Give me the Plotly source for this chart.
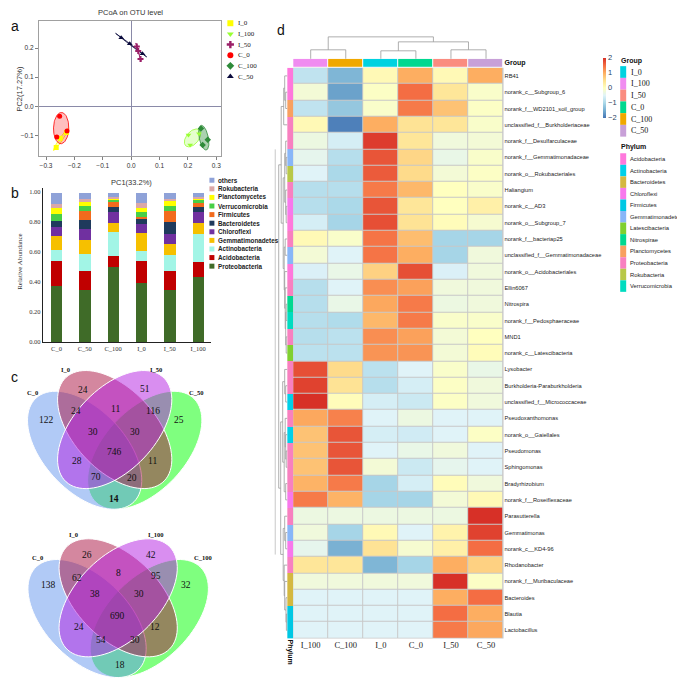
import numpy as np
import plotly.graph_objects as go

W, H = 685, 679
SERIF = "Liberation Serif, Times New Roman, serif"
SANS = "Liberation Sans, Arial, sans-serif"

#-------------------------------------------------------------------------------
# a : PCoA
#-------------------------------------------------------------------------------
pcoa_groups = ["I_0", "I_100", "I_50", "C_0", "C_100", "C_50"]
pc1_I_0   = [-0.264, -0.250, -0.228]
pc2_I_0   = [-0.142, -0.110, -0.090]
pc1_I_100 = [0.202, 0.208, 0.239]
pc2_I_100 = [-0.099, -0.133, -0.094]
pc1_I_50  = [0.020, 0.025, 0.033]
pc2_I_50  = [0.205, 0.190, 0.162]
pc1_C_0   = [-0.252, -0.262, -0.226]
pc2_C_0   = [-0.034, -0.106, -0.085]
pc1_C_100 = [0.246, 0.252, 0.270]
pc2_C_100 = [-0.076, -0.133, -0.115]
pc1_C_50  = [-0.035, -0.005, 0.040]
pc2_C_50  = [0.235, 0.215, 0.180]

#-------------------------------------------------------------------------------
# b : relative abundance
#-------------------------------------------------------------------------------
bar_samples = ["C_0", "C_50", "C_100", "I_0", "I_50", "I_100"]
Proteobacteria   = [0.374, 0.347, 0.501, 0.396, 0.347, 0.440]
Acidobacteria    = [0.171, 0.130, 0.079, 0.149, 0.130, 0.098]
Actinobacteria   = [0.070, 0.112, 0.156, 0.066, 0.105, 0.187]
Gemmatimonadetes = [0.095, 0.097, 0.062, 0.121, 0.077, 0.071]
Chloroflexi      = [0.060, 0.072, 0.070, 0.059, 0.066, 0.074]
Bacteroidetes    = [0.040, 0.060, 0.033, 0.038, 0.077, 0.035]
Firmicutes       = [0.003, 0.061, 0.039, 0.006, 0.073, 0.025]
Verrucomicrobia  = [0.044, 0.033, 0.014, 0.033, 0.033, 0.022]
Planctomycetes   = [0.040, 0.022, 0.009, 0.027, 0.037, 0.011]
Rokubacteria     = [0.026, 0.022, 0.004, 0.035, 0.011, 0.004]
others           = [0.077, 0.044, 0.033, 0.070, 0.044, 0.033]

#-------------------------------------------------------------------------------
# c : Venn counts (C_0 only, I_0 only, I_x only, C_x only, C0&I0, I0&Ix,
#     Ix&Cx, C0&I0&Ix, I0&Ix&Cx, all, C0&Ix, I0&Cx, C0&Ix&Cx, C0&I0&Cx, C0&Cx)
#-------------------------------------------------------------------------------
venn1_sets   = ["C_0", "I_0", "I_50", "C_50"]
venn1_counts = [122, 24, 51, 25, 24, 11, 116, 30, 30, 746, 28, 11, 70, 20, 14]
venn2_sets   = ["C_0", "I_0", "I_100", "C_100"]
venn2_counts = [138, 26, 42, 32, 62, 8, 95, 38, 30, 690, 24, 12, 54, 30, 18]

#-------------------------------------------------------------------------------
# d : heatmap
#-------------------------------------------------------------------------------
hm_cols = ["I_100", "C_100", "I_0", "C_0", "I_50", "C_50"]
hm_rows = ["RB41", "norank_c__Subgroup_6", "norank_f__WD2101_soil_group",
           "unclassified_f__Burkholderiaceae", "norank_f__Desulfarculaceae",
           "norank_f__Gemmatimonadaceae", "norank_o__Rokubacteriales", "Haliangium",
           "norank_c__AD3", "norank_o__Subgroup_7", "norank_f__bacteriap25",
           "unclassified_f__Gemmatimonadaceae", "norank_o__Acidobacteriales",
           "Ellin6067", "Nitrospira", "norank_f__Pedosphaeraceae", "MND1",
           "norank_c__Latescibacteria", "Lysobacter", "Burkholderia-Paraburkholderia",
           "unclassified_f__Micrococcaceae", "Pseudoxanthomonas", "norank_o__Gaiellales",
           "Pseudomonas", "Sphingomonas", "Bradyrhizobium", "norank_f__Roseiflexaceae",
           "Parasutterella", "Gemmatimonas", "norank_c__KD4-96", "Rhodanobacter",
           "norank_f__Muribaculaceae", "Bacteroides", "Blautia", "Lactobacillus"]
zscores = [
    [-0.80, -1.40, 0.10, 1.00, 0.10, 1.00],
    [-0.20, -1.60, -0.05, 1.50, 0.40, -0.10],
    [-0.80, -1.20, -0.10, 1.40, 0.80, -0.05],
    [0.10, -1.90, 1.00, 0.45, 0.40, -0.10],
    [-0.30, -0.60, 1.90, 0.40, -0.25, -0.20],
    [-0.40, -0.90, 1.70, 0.60, -0.35, -0.10],
    [-0.50, -1.00, 1.65, 0.55, -0.20, -0.05],
    [-0.90, -0.90, 1.40, 0.90, 0.00, -0.10],
    [-0.90, -1.00, 1.70, 0.40, 0.00, 0.25],
    [-0.60, -1.05, 1.75, 0.45, 0.05, -0.15],
    [0.10, -0.10, 1.45, 0.85, -1.05, -1.05],
    [-0.20, -0.50, 1.45, 1.00, -1.05, -0.25],
    [-0.55, -0.35, 0.65, 1.75, -0.55, -0.25],
    [-0.90, -0.50, 1.25, 1.10, -0.25, -0.25],
    [-0.90, -0.35, 1.05, 1.40, -0.30, -0.25],
    [-0.90, -0.95, 0.90, 1.40, -0.10, -0.10],
    [-0.90, -0.85, 1.25, 1.10, -0.20, 0.00],
    [-0.85, -0.85, 1.20, 1.20, -0.20, 0.05],
    [1.75, 0.55, -0.85, -0.50, -0.10, -0.35],
    [1.85, 0.45, -0.90, -0.60, -0.05, -0.25],
    [2.00, 0.05, -0.60, -0.70, -0.05, -0.25],
    [1.05, 1.35, -0.50, -0.30, -0.50, -0.50],
    [0.80, 1.70, -0.60, -0.65, -0.50, -0.05],
    [0.80, 1.70, -0.50, -0.35, -0.25, -0.50],
    [0.80, 1.70, -0.20, -0.70, -0.40, -0.50],
    [0.95, 1.40, -1.05, -0.60, 0.05, -0.25],
    [1.40, 0.95, -1.05, -1.05, -0.20, 0.10],
    [-0.30, -0.30, -0.30, -0.30, -0.30, 2.00],
    [-0.25, -1.05, 0.10, -0.50, 0.20, 1.85],
    [-0.40, -1.45, 0.45, -0.15, 0.25, 1.50],
    [0.40, 0.40, -1.40, -1.05, 1.00, 0.65],
    [-0.25, -0.25, -0.25, -0.25, 2.00, -0.05],
    [-0.50, -0.50, -0.50, -0.50, 1.00, 1.50],
    [-0.50, -0.50, -0.50, -0.50, 1.50, 1.00],
    [-0.50, -0.50, -0.50, -0.50, 1.40, 1.05],
]
row_phylum = ["Acidobacteria", "Acidobacteria", "Planctomycetes", "Proteobacteria",
              "Proteobacteria", "Gemmatimonadetes", "Rokubacteria", "Proteobacteria",
              "Chloroflexi", "Acidobacteria", "Proteobacteria", "Gemmatimonadetes",
              "Acidobacteria", "Proteobacteria", "Nitrospirae", "Verrucomicrobia",
              "Proteobacteria", "Latescibacteria", "Proteobacteria", "Proteobacteria",
              "Actinobacteria", "Proteobacteria", "Actinobacteria", "Proteobacteria",
              "Proteobacteria", "Proteobacteria", "Chloroflexi", "Proteobacteria",
              "Gemmatimonadetes", "Chloroflexi", "Proteobacteria", "Bacteroidetes",
              "Bacteroidetes", "Firmicutes", "Firmicutes"]
group_legend  = ["I_0", "I_100", "I_50", "C_0", "C_100", "C_50"]
phylum_legend = ["Acidobacteria", "Actinobacteria", "Bacteroidetes", "Chloroflexi",
                 "Firmicutes", "Gemmatimonadetes", "Latescibacteria", "Nitrospirae",
                 "Planctomycetes", "Proteobacteria", "Rokubacteria", "Verrucomicrobia"]

# dendrograms: (left, right, height)
col_tree = ((0, 1, 9.0), ((2, 3, 8.0), (4, 5, 9.0), 17.0), 22.0)
row_tree = (
    (((0, (1, 2, 1.5), 2.5), 3, 3.5),
     (((4, (5, 6, 1.0), 1.5), (7, (8, 9, 1.0), 1.5), 2.5),
      ((10, 11, 2.0), (12, (13, ((14, 15, 1.0), (16, 17, 1.0), 1.5), 2.0), 2.5), 3.0), 4.0), 6.0),
    (((18, (19, 20, 1.5), 2.5),
      ((21, (22, (23, 24, 1.0), 1.5), 2.0), (25, 26, 1.5), 3.0), 4.5),
     ((27, (28, 29, 1.5), 2.5), (30, (31, (32, (33, 34, 0.8), 1.2), 2.5), 3.0), 4.0), 6.5),
    8.5)

#-------------------------------------------------------------------------------
# styles
#-------------------------------------------------------------------------------
pcoa_style = {
    "I_0":   dict(color="#ffff00", symbol="square",        fill="rgba(255,255,0,0.25)"),
    "I_100": dict(color="#99ff33", symbol="triangle-down", fill="rgba(153,255,51,0.25)"),
    "I_50":  dict(color="#9b1f68", symbol="cross",         fill="rgba(155,31,104,0.25)"),
    "C_0":   dict(color="#ff0000", symbol="circle",        fill="rgba(255,0,0,0.25)"),
    "C_100": dict(color="#2e8b3a", symbol="diamond",       fill="rgba(46,139,58,0.4)"),
    "C_50":  dict(color="#0a0a3c", symbol="triangle-up",   fill="rgba(10,10,60,0.25)"),
}
bar_colors = {
    "Proteobacteria": "#3f6b28", "Acidobacteria": "#c00000", "Actinobacteria": "#a2f5e6",
    "Gemmatimonadetes": "#f6c000", "Chloroflexi": "#7030a0", "Bacteroidetes": "#1f3a5c",
    "Firmicutes": "#f26b1d", "Verrucomicrobia": "#47cf47", "Planctomycetes": "#ffff00",
    "Rokubacteria": "#dba8a8", "others": "#8fa2d8",
}
group_colors = {"I_0": "#00d2e0", "I_100": "#f08cf0", "I_50": "#fa8c80",
                "C_0": "#00d890", "C_100": "#f0a800", "C_50": "#c8a0d8"}
phylum_colors = {
    "Acidobacteria": "#ff78dc", "Actinobacteria": "#00d0e8", "Bacteroidetes": "#d4b840",
    "Chloroflexi": "#f878ec", "Firmicutes": "#00c8e4", "Gemmatimonadetes": "#88b6f8",
    "Latescibacteria": "#80d030", "Nitrospirae": "#00d890", "Planctomycetes": "#f8a060",
    "Proteobacteria": "#f880c0", "Rokubacteria": "#b8c848", "Verrucomicrobia": "#00dcc0",
}
hm_scale = [[0.0, "#4575b4"], [0.125, "#74add1"], [0.25, "#abd9e9"], [0.375, "#e0f3f8"],
            [0.5, "#ffffbf"], [0.625, "#fee090"], [0.75, "#fdae61"], [0.875, "#f46d43"],
            [1.0, "#d73027"]]


def px(x):
    return x / W


def py(y):
    return 1 - y / H


def discrete_scale(colors):
    n = len(colors)
    out = []
    for i, c in enumerate(colors):
        out.append([i / n, c])
        out.append([(i + 1) / n, c])
    return out


def ellipse_path(cx, cy, a, b, ang, sx, sy, ox, oy, n=90):
    t = np.linspace(0, 2 * np.pi, n)
    r = np.radians(ang)
    u = cx + a * np.cos(t) * np.cos(r) - b * np.sin(t) * np.sin(r)
    v = cy + a * np.cos(t) * np.sin(r) + b * np.sin(t) * np.cos(r)
    X = ox + (u - 0.5) * sx
    Y = oy - v * sy
    return "M " + " L ".join(f"{x:.2f},{y:.2f}" for x, y in zip(X, Y)) + " Z"


def dendro(node, leaf_pos, segs):
    if isinstance(node, int):
        return leaf_pos[node], 0.0
    left, right, h = node
    p1, h1 = dendro(left, leaf_pos, segs)
    p2, h2 = dendro(right, leaf_pos, segs)
    segs.append(((p1, h1), (p1, h)))
    segs.append(((p2, h2), (p2, h)))
    segs.append(((p1, h), (p2, h)))
    return (p1 + p2) / 2, h


fig = go.Figure()
annots = []
shapes = []

#-------------------------------------------------------------------------------
# a : PCoA traces
#-------------------------------------------------------------------------------
pcoa_data = {"I_0": (pc1_I_0, pc2_I_0), "I_100": (pc1_I_100, pc2_I_100),
             "I_50": (pc1_I_50, pc2_I_50), "C_0": (pc1_C_0, pc2_C_0),
             "C_100": (pc1_C_100, pc2_C_100), "C_50": (pc1_C_50, pc2_C_50)}
t = np.linspace(0, 2 * np.pi, 90)
for g in ["I_0", "C_0", "I_100", "C_100", "I_50", "C_50"]:
    xs, ys = pcoa_data[g]
    st = pcoa_style[g]
    pts = np.column_stack([xs, ys])
    mu = pts.mean(0)
    vals, vecs = np.linalg.eigh(np.cov(pts.T))
    circ = np.vstack([np.cos(t), np.sin(t)])
    ell = vecs @ (np.sqrt(np.maximum(vals, 0))[:, None] * circ) * 1.45 + mu[:, None]
    fig.add_trace(go.Scatter(x=ell[0], y=ell[1], mode="lines", fill="toself",
                             fillcolor=st["fill"], line=dict(color=st["color"], width=0.8),
                             hoverinfo="skip", showlegend=False, xaxis="x", yaxis="y"))
for g in ["I_0", "C_0", "I_100", "C_100", "I_50", "C_50"]:
    xs, ys = pcoa_data[g]
    st = pcoa_style[g]
    fig.add_trace(go.Scatter(x=xs, y=ys, mode="markers", name=g,
                             marker=dict(symbol=st["symbol"], color=st["color"], size=5,
                                         line=dict(width=0)),
                             showlegend=False, xaxis="x", yaxis="y"))

# legend a
for i, g in enumerate(pcoa_groups):
    yy = 15.3 + i * 10.7
    st = pcoa_style[g]
    fig.add_trace(go.Scatter(x=[222], y=[yy], mode="markers", showlegend=False,
                             marker=dict(symbol=st["symbol"], color=st["color"], size=6),
                             xaxis="x6", yaxis="y6", hoverinfo="skip"))
    annots.append(dict(x=228, y=yy, xref="x6", yref="y6", text=g, showarrow=False,
                       xanchor="left", font=dict(family=SERIF, size=7, color="#222")))

#-------------------------------------------------------------------------------
# b : stacked bars
#-------------------------------------------------------------------------------
bar_series = [("Proteobacteria", Proteobacteria), ("Acidobacteria", Acidobacteria),
              ("Actinobacteria", Actinobacteria), ("Gemmatimonadetes", Gemmatimonadetes),
              ("Chloroflexi", Chloroflexi), ("Bacteroidetes", Bacteroidetes),
              ("Firmicutes", Firmicutes), ("Verrucomicrobia", Verrucomicrobia),
              ("Planctomycetes", Planctomycetes), ("Rokubacteria", Rokubacteria),
              ("others", others)]
for name, vals in bar_series:
    fig.add_trace(go.Bar(x=bar_samples, y=vals, name=name, width=0.4,
                         marker=dict(color=bar_colors[name], line=dict(width=0)),
                         showlegend=False, xaxis="x2", yaxis="y2"))
for i, (name, _) in enumerate(reversed(bar_series)):
    yy = 173 + i * 8.63
    shapes.append(dict(type="rect", xref="x6", yref="y6", x0=201, x1=206,
                       y0=yy - 2.5, y1=yy + 2.5, fillcolor=bar_colors[name], line=dict(width=0)))
    annots.append(dict(x=208, y=yy, xref="x6", yref="y6", text="<b>%s</b>" % name,
                       showarrow=False, xanchor="left",
                       font=dict(family=SANS, size=6.3, color="#222")))

#-------------------------------------------------------------------------------
# c : Venn diagrams
#-------------------------------------------------------------------------------
venn_u = [0.35, 0.50, 0.50, 0.65]
venn_v = [0.47, 0.57, 0.57, 0.47]
venn_ang = [-45, -45, 45, 45]
venn_fill = ["rgba(100,149,237,0.5)", "rgba(169,15,63,0.5)",
             "rgba(180,30,225,0.5)", "rgba(0,255,0,0.5)"]
venn_label_pos1 = [(37.3, 414.3), (74, 383.3), (136.7, 382.7), (170.7, 414.3),
                   (66.7, 404.3), (106.7, 402.7), (144, 404.3), (84, 426), (126.7, 426),
                   (106, 446), (68.3, 455), (144, 455), (87.3, 470.7), (123.3, 471.7),
                   (105.3, 492.7)]
venn_label_pos2 = [(40, 580), (78.3, 549), (142.7, 549), (177.7, 580),
                   (68.3, 572.3), (110, 567.7), (147, 571), (86.7, 588.7), (130, 588.7),
                   (108.7, 611), (70.7, 622), (146.7, 622), (92, 635.3), (126.7, 635.3),
                   (111, 660)]
venn_name_pos1 = [(23.3, 386), (56.7, 363.3), (147.7, 363.3), (187.7, 386)]
venn_name_pos2 = [(28.3, 551.7), (64.3, 529.3), (147.7, 529.3), (195, 551.7)]

for (ox, oy, sx, sy, sets, counts, lpos, npos) in [
        (106, 542, 201, 208, venn1_sets, venn1_counts, venn_label_pos1, venn_name_pos1),
        (109.5, 711, 208, 208, venn2_sets, venn2_counts, venn_label_pos2, venn_name_pos2)]:
    for k in [3, 0, 1, 2]:
        shapes.append(dict(type="path", xref="x6", yref="y6",
                           path=ellipse_path(venn_u[k], venn_v[k], 0.35, 0.2, venn_ang[k],
                                             sx, sy, ox, oy),
                           fillcolor=venn_fill[k], line=dict(color="white", width=1)))
    for i, (c, (lx, ly)) in enumerate(zip(counts, lpos)):
        txt = "<b>%d</b>" % c if (i == len(counts) - 1 and c == 14) else str(c)
        annots.append(dict(x=lx, y=ly, xref="x6", yref="y6", text=txt, showarrow=False,
                           font=dict(family=SERIF, size=9.5, color="#111")))
    for s, (nx, ny) in zip(sets, npos):
        annots.append(dict(x=nx, y=ny, xref="x6", yref="y6", text="<b>%s</b>" % s,
                           showarrow=False, font=dict(family=SERIF, size=6.5, color="#111")))

#-------------------------------------------------------------------------------
# d : heatmap
#-------------------------------------------------------------------------------
shapes.append(dict(type="rect", xref="x3 domain", yref="y3 domain", x0=0, x1=1, y0=0, y1=1,
                   fillcolor="#c8c8c8", line=dict(width=0), layer="below"))
fig.add_trace(go.Heatmap(z=zscores, x=hm_cols, y=hm_rows, colorscale=hm_scale,
                         zmin=-2, zmax=2, xgap=1, ygap=1, xaxis="x3", yaxis="y3",
                         colorbar=dict(x=px(596), xanchor="left", xpad=0, ypad=0,
                                       y=py(80), yanchor="middle",
                                       len=60, lenmode="pixels", thickness=3,
                                       outlinewidth=0, tickvals=[-2, -1, 0, 1, 2],
                                       ticks="", tickfont=dict(family=SANS, size=7.5))))
fig.add_trace(go.Heatmap(z=[list(range(len(hm_cols)))], x=hm_cols, y=["Group"],
                         colorscale=discrete_scale([group_colors[c] for c in hm_cols]),
                         zmin=-0.5, zmax=len(hm_cols) - 0.5, showscale=False, xgap=1,
                         xaxis="x4", yaxis="y4", hoverinfo="skip"))
fig.add_trace(go.Heatmap(z=[[phylum_legend.index(p)] for p in row_phylum], x=["Phylum"],
                         y=hm_rows,
                         colorscale=discrete_scale([phylum_colors[p] for p in phylum_legend]),
                         zmin=-0.5, zmax=len(phylum_legend) - 0.5, showscale=False,
                         xaxis="x5", yaxis="y5", hoverinfo="skip"))

# dendrograms
HM_TOP, HM_BOT, HM_L, HM_R = 60, 633.3, 285, 496
col_w = (HM_R - HM_L) / len(hm_cols)
row_h = (HM_BOT - HM_TOP) / len(hm_rows)
segs = []
dendro(col_tree, [HM_L + col_w * (i + 0.5) for i in range(len(hm_cols))], segs)
lx, ly = [], []
for (p1, h1), (p2, h2) in segs:
    lx += [p1, p2, None]
    ly += [51 - h1, 51 - h2, None]
segs = []
dendro(row_tree, [HM_TOP + row_h * (i + 0.5) for i in range(len(hm_rows))], segs)
for (p1, h1), (p2, h2) in segs:
    lx += [279 - h1, 279 - h2, None]
    ly += [p1, p2, None]
fig.add_trace(go.Scatter(x=lx, y=ly, mode="lines", line=dict(color="#9a9a9a", width=0.8),
                         showlegend=False, hoverinfo="skip", xaxis="x6", yaxis="y6"))

# frame line left of panel d
shapes.append(dict(type="line", xref="x6", yref="y6", x0=267, x1=267, y0=142, y1=549,
                   line=dict(color="#c8c8c8", width=1)))

# group / phylum legends
LEG_X = 613
annots.append(dict(x=LEG_X - 1, y=53.3, xref="x6", yref="y6", text="<b>Group</b>",
                   showarrow=False, xanchor="left", font=dict(family=SANS, size=7, color="#111")))
for i, g in enumerate(group_legend):
    yy = 64.3 + i * 11.8
    shapes.append(dict(type="rect", xref="x6", yref="y6", x0=LEG_X, x1=LEG_X + 6,
                       y0=yy - 5.9, y1=yy + 5.9, fillcolor=group_colors[g], line=dict(width=0)))
    annots.append(dict(x=LEG_X + 8.5, y=yy, xref="x6", yref="y6", text=g, showarrow=False,
                       xanchor="left", font=dict(family=SERIF, size=8, color="#111")))
annots.append(dict(x=LEG_X - 1, y=140, xref="x6", yref="y6", text="<b>Phylum</b>",
                   showarrow=False, xanchor="left", font=dict(family=SANS, size=7, color="#111")))
for i, p in enumerate(phylum_legend):
    yy = 151.7 + i * 11.6
    shapes.append(dict(type="rect", xref="x6", yref="y6", x0=LEG_X, x1=LEG_X + 6,
                       y0=yy - 5.8, y1=yy + 5.8, fillcolor=phylum_colors[p], line=dict(width=0)))
    annots.append(dict(x=LEG_X + 7.5, y=yy, xref="x6", yref="y6", text=p, showarrow=False,
                       xanchor="left", font=dict(family=SANS, size=5.8, color="#222")))

#-------------------------------------------------------------------------------
# texts
#-------------------------------------------------------------------------------
for lab, x, y in [("a", 6, 18), ("b", 6, 186), ("c", 6, 371), ("d", 273, 22)]:
    annots.append(dict(x=x, y=y, xref="x6", yref="y6", text=lab, showarrow=False,
                       font=dict(family=SANS, size=14, color="#111")))
annots.append(dict(x=122, y=5, xref="x6", yref="y6", text="PCoA on OTU level", showarrow=False,
                   font=dict(family=SANS, size=7.5, color="#333")))
annots.append(dict(x=123, y=175.5, xref="x6", yref="y6", text="PC1(33.2%)", showarrow=False,
                   font=dict(family=SANS, size=7.5, color="#333")))
annots.append(dict(x=11, y=81, xref="x6", yref="y6", text="PC2(17.27%)", showarrow=False,
                   textangle=-90, font=dict(family=SANS, size=7.5, color="#333")))
annots.append(dict(x=11, y=254, xref="x6", yref="y6", text="Relative Abundance",
                   showarrow=False, textangle=-90, font=dict(family=SERIF, size=7, color="#333")))

axis_off = dict(visible=False, showgrid=False, zeroline=False)
fig.update_layout(
    width=W, height=H, margin=dict(l=0, r=0, t=0, b=0),
    paper_bgcolor="white", plot_bgcolor="rgba(0,0,0,0)", showlegend=False,
    barmode="stack", bargap=0,
    xaxis=dict(domain=[px(30), px(213)], range=[-0.325, 0.318], anchor="y",
               tickvals=[-0.3, -0.2, -0.1, 0.0, 0.1, 0.2, 0.3], tickformat=".1f",
               showgrid=False, zeroline=True, zerolinecolor="#8a8aa8", zerolinewidth=0.8,
               showline=True, mirror=True, linecolor="#a0a0a0", linewidth=1,
               ticks="outside", ticklen=3, tickcolor="#808080",
               tickfont=dict(family=SANS, size=6.5, color="#333")),
    yaxis=dict(domain=[py(149), py(13)], range=[-0.172, 0.293], anchor="x",
               tickvals=[-0.1, 0.0, 0.1, 0.2], tickformat=".1f",
               showgrid=False, zeroline=True, zerolinecolor="#8a8aa8", zerolinewidth=0.8,
               showline=True, mirror=True, linecolor="#a0a0a0", linewidth=1,
               ticks="outside", ticklen=3, tickcolor="#808080",
               tickfont=dict(family=SANS, size=6.5, color="#333")),
    xaxis2=dict(domain=[px(34), px(203)], range=[-0.48, 5.47], anchor="y2",
                showline=True, linecolor="#222", linewidth=1, ticks="",
                tickfont=dict(family=SERIF, size=6.5, color="#333")),
    yaxis2=dict(domain=[py(335.7), py(180.5)], range=[0, 1.03], anchor="x2",
                tickvals=[0, 0.2, 0.4, 0.6, 0.8, 1.0], tickformat=".2f", showgrid=False,
                zeroline=False, showline=True, linecolor="#222", linewidth=1, ticks="",
                tickfont=dict(family=SERIF, size=6.5, color="#333")),
    xaxis3=dict(domain=[px(HM_L), px(HM_R)], anchor="y3", ticks="", showgrid=False,
                zeroline=False, tickfont=dict(family=SERIF, size=8.5, color="#222")),
    yaxis3=dict(domain=[py(HM_BOT), py(HM_TOP)], anchor="x3", side="right",
                autorange="reversed", ticks="", showgrid=False, zeroline=False,
                tickfont=dict(family=SANS, size=5.7, color="#222")),
    xaxis4=dict(domain=[px(HM_L), px(HM_R)], anchor="y4", **axis_off),
    yaxis4=dict(domain=[py(59.3), py(51)], anchor="x4", side="right", ticks="",
                showgrid=False, zeroline=False,
                tickfont=dict(family=SANS, size=7, color="#111")),
    xaxis5=dict(domain=[px(279), px(HM_L)], anchor="y5", ticks="", tickangle=90,
                showgrid=False, zeroline=False,
                tickfont=dict(family=SANS, size=7, color="#111")),
    yaxis5=dict(domain=[py(HM_BOT), py(HM_TOP)], anchor="x5", autorange="reversed",
                **axis_off),
    xaxis6=dict(domain=[0, 1], range=[0, W], anchor="y6", **axis_off),
    yaxis6=dict(domain=[0, 1], range=[H, 0], anchor="x6", **axis_off),
    annotations=annots, shapes=shapes,
)
fig.update_layout(yaxis4_tickvals=["Group"], yaxis4_ticktext=["<b>Group</b>"],
                  xaxis5_tickvals=["Phylum"], xaxis5_ticktext=["<b>Phylum</b>"])

fig.write_html("out.html")
